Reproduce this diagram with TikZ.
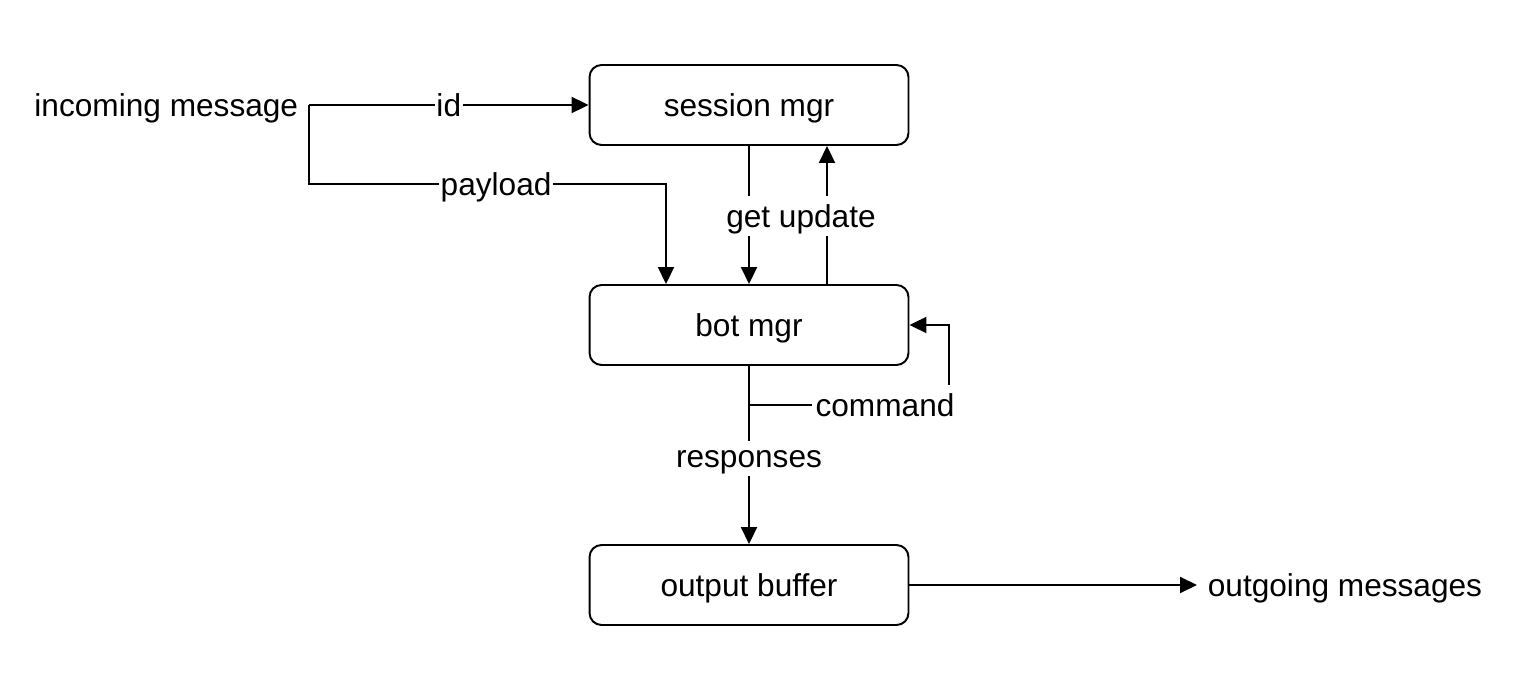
\documentclass[tikz,border=0pt]{standalone}
\usepackage{fontspec}
\setmainfont{Liberation Sans}
\usetikzlibrary{arrows.meta,calc}
\begin{document}
\begin{tikzpicture}[x=0.02cm,y=-0.02cm,
  font=\fontsize{18}{22}\selectfont,
  every node/.append style={text depth=0pt},
  box/.style={draw,line width=1.1pt,rounded corners=0.24cm,minimum width=6.38cm,minimum height=1.6cm,inner sep=0pt},
  arr/.style={line width=1.1pt,-{Triangle[length=0.34cm,width=0.32cm]}},
  lbl/.style={fill=white,inner xsep=1pt,inner ysep=5pt},
  txt/.style={inner sep=0.21cm}]
\useasboundingbox (0,0) rectangle (1520,678);
\node[box] (sess) at (749,105) {session mgr};
\node[box] (bot) at (749,325) {bot mgr};
\node[box] (out) at (749,585) {output buffer};
\node[txt,anchor=east] (inc) at (309,105) {incoming message};
\node[txt,anchor=west] (outg) at (1197,585) {outgoing messages};
% id
\draw[arr] (inc.east) -- node[lbl] (idl) {id} (sess.west);
% payload
\coordinate (pc) at (666,184);
\draw[arr] (inc.east) |- node[lbl,pos=0.762] (pl) {payload} (pc) -- (pc |- bot.north);
% get update
\draw[arr] (sess.south) -- (bot.north);
\draw[arr] ($(bot.north)+(78,0)$) -- ($(sess.south)+(78,0)$);
\node[lbl] (gu) at (801,216) {get update};
% responses
\draw[arr] (bot.south) -- node[lbl,pos=0.52] (rs) {responses} (out.north);
% command
\coordinate (cmd) at (749,405);
\coordinate (cr) at (949,405);
\draw[arr] (cmd) -- (cr) |- (bot.east);
\node[lbl,inner xsep=2pt] (cl) at (885,405) {command};
% outgoing
\draw[arr] (out.east) -- (outg.west);
\end{tikzpicture}
\end{document}
